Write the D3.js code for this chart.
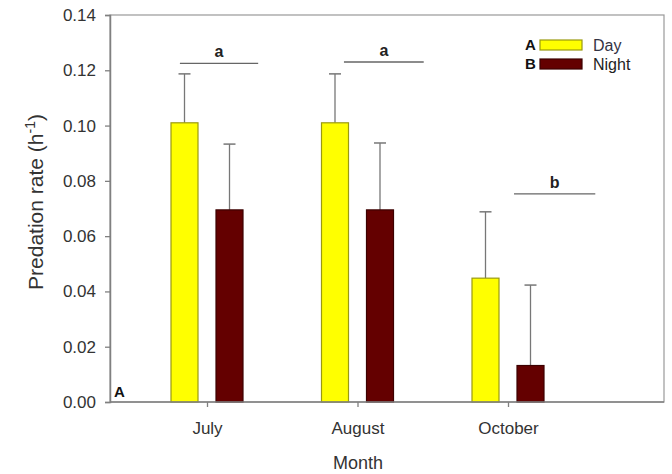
<!DOCTYPE html>
<html>
<head>
<meta charset="utf-8">
<script src="https://cdn.jsdelivr.net/npm/d3@7"></script>
<style>
  body { margin: 0; background: #fff; }
  text { font-family: Arial, "Liberation Sans", sans-serif; }
</style>
</head>
<body>
<div id="chart"></div>
<script>
var months = ['July', 'August', 'October'];
var seriesNames = ['Day', 'Night'];
var legendKeys = ['A', 'B'];
var dayValues = [0.101, 0.101, 0.0448];
var dayErrors = [0.0177, 0.0177, 0.0240];
var nightValues = [0.0695, 0.0695, 0.0132];
var nightErrors = [0.0238, 0.0242, 0.0291];
var sigLetters = ['a', 'a', 'b'];
var sigLevels = [0.1225, 0.1230, 0.0753];
var sigStart = [-0.18, 0.91, 2.04];
var sigEnd = [0.34, 1.44, 2.58];
var yTicks = [0, 0.02, 0.04, 0.06, 0.08, 0.10, 0.12, 0.14];

var width = 672, height = 474;
var plotLeft = 110, plotRight = 664, plotTop = 15, plotBottom = 402;
var fills = ['#ffff00', '#640000'];
var strokes = ['#9a9a10', '#3c0000'];
var axisColor = '#808080';

var svg = d3.select('#chart').append('svg')
    .attr('width', width)
    .attr('height', height);

var y = d3.scaleLinear().domain([0, 0.14]).range([plotBottom, plotTop]);
// category index -> pixel (centres of the three month groups)
var x = d3.scaleLinear().domain([0, 1]).range([207, 357.5]);
var barW = 27, barOffset = 22.5;

var series = [
    {name: seriesNames[0], values: dayValues, errors: dayErrors},
    {name: seriesNames[1], values: nightValues, errors: nightErrors}
];

// frame
svg.append('rect')
    .attr('x', plotLeft).attr('y', plotTop)
    .attr('width', plotRight - plotLeft).attr('height', plotBottom - plotTop)
    .attr('fill', 'none')
    .attr('stroke', '#999')
    .attr('stroke-width', 1.2);

// error bars (upper only)
series.forEach(function(s, si) {
    var g = svg.append('g');
    s.values.forEach(function(v, i) {
        var cx = x(i) + (si === 0 ? -barOffset : barOffset);
        var capY = y(v + s.errors[i]);
        g.append('line')
            .attr('x1', cx).attr('x2', cx)
            .attr('y1', y(v)).attr('y2', capY)
            .attr('stroke', '#777').attr('stroke-width', 1.3);
        g.append('line')
            .attr('x1', cx - 6).attr('x2', cx + 6)
            .attr('y1', capY).attr('y2', capY)
            .attr('stroke', '#777').attr('stroke-width', 1.5);
    });
});

// bars
series.forEach(function(s, si) {
    svg.append('g').selectAll('rect')
        .data(s.values)
        .join('rect')
        .attr('x', function(d, i) { return x(i) + (si === 0 ? -barOffset : barOffset) - barW / 2; })
        .attr('y', function(d) { return y(d); })
        .attr('width', barW)
        .attr('height', function(d) { return y(0) - y(d); })
        .attr('fill', fills[si])
        .attr('stroke', strokes[si])
        .attr('stroke-width', 1.2);
});

// significance lines and letters
sigLetters.forEach(function(letter, i) {
    svg.append('line')
        .attr('x1', x(sigStart[i])).attr('x2', x(sigEnd[i]))
        .attr('y1', y(sigLevels[i])).attr('y2', y(sigLevels[i]))
        .attr('stroke', '#666').attr('stroke-width', 1.3);
    svg.append('text')
        .attr('x', (x(sigStart[i]) + x(sigEnd[i])) / 2)
        .attr('y', y(sigLevels[i]) - 6)
        .attr('text-anchor', 'middle')
        .attr('font-size', '16px')
        .attr('font-weight', 'bold')
        .attr('fill', '#222')
        .text(letter);
});

// y axis
var yAxis = svg.append('g')
    .attr('transform', 'translate(' + plotLeft + ',0)')
    .call(d3.axisLeft(y).tickValues(yTicks).tickFormat(d3.format('.2f')).tickSize(5).tickPadding(9));
yAxis.select('.domain').attr('stroke', axisColor).attr('stroke-width', 1.5);
yAxis.selectAll('.tick line').attr('stroke', axisColor).attr('stroke-width', 1.3);
yAxis.selectAll('.tick text').attr('font-size', '17px').attr('fill', '#333');

// x axis
var xAxis = svg.append('g')
    .attr('transform', 'translate(0,' + plotBottom + ')')
    .call(d3.axisBottom(x).tickValues([0, 1, 2])
        .tickFormat(function(d) { return months[d]; }).tickSize(5).tickSizeOuter(0).tickPadding(15));
xAxis.select('.domain').attr('stroke', axisColor).attr('stroke-width', 1.5)
    .attr('d', 'M' + plotLeft + ',0H' + plotRight);
xAxis.selectAll('.tick line').attr('stroke', axisColor).attr('stroke-width', 1.3);
xAxis.selectAll('.tick text').attr('font-size', '17px').attr('fill', '#333');

// axis titles
svg.append('text')
    .attr('x', 358).attr('y', 469)
    .attr('text-anchor', 'middle')
    .attr('font-size', '18px')
    .attr('fill', '#333')
    .text('Month');

var yTitle = svg.append('text')
    .attr('transform', 'translate(43,202) rotate(-90)')
    .attr('text-anchor', 'middle')
    .attr('font-size', '21px')
    .attr('fill', '#333');
yTitle.append('tspan').text('Predation rate (h');
yTitle.append('tspan').attr('font-size', '14px').attr('dy', -8).text('-1');
yTitle.append('tspan').attr('dy', 8).text(')');

// panel label
svg.append('text')
    .attr('x', 114).attr('y', 397)
    .attr('font-size', '15px')
    .attr('font-weight', 'bold')
    .attr('fill', '#111')
    .text('A');

// legend
var legend = svg.append('g').attr('transform', 'translate(525,45)');
seriesNames.forEach(function(name, i) {
    var row = legend.append('g').attr('transform', 'translate(0,' + (i * 19) + ')');
    row.append('text')
        .attr('x', 0).attr('y', 5)
        .attr('font-size', '15px').attr('font-weight', 'bold').attr('fill', '#111')
        .text(legendKeys[i]);
    row.append('rect')
        .attr('x', 15).attr('y', -5)
        .attr('width', 42).attr('height', 10)
        .attr('fill', fills[i]).attr('stroke', strokes[i]).attr('stroke-width', 1.2);
    row.append('text')
        .attr('x', 68).attr('y', 6)
        .attr('font-size', '16px').attr('fill', i === 0 ? '#334' : '#222')
        .text(name);
});
</script>
</body>
</html>
